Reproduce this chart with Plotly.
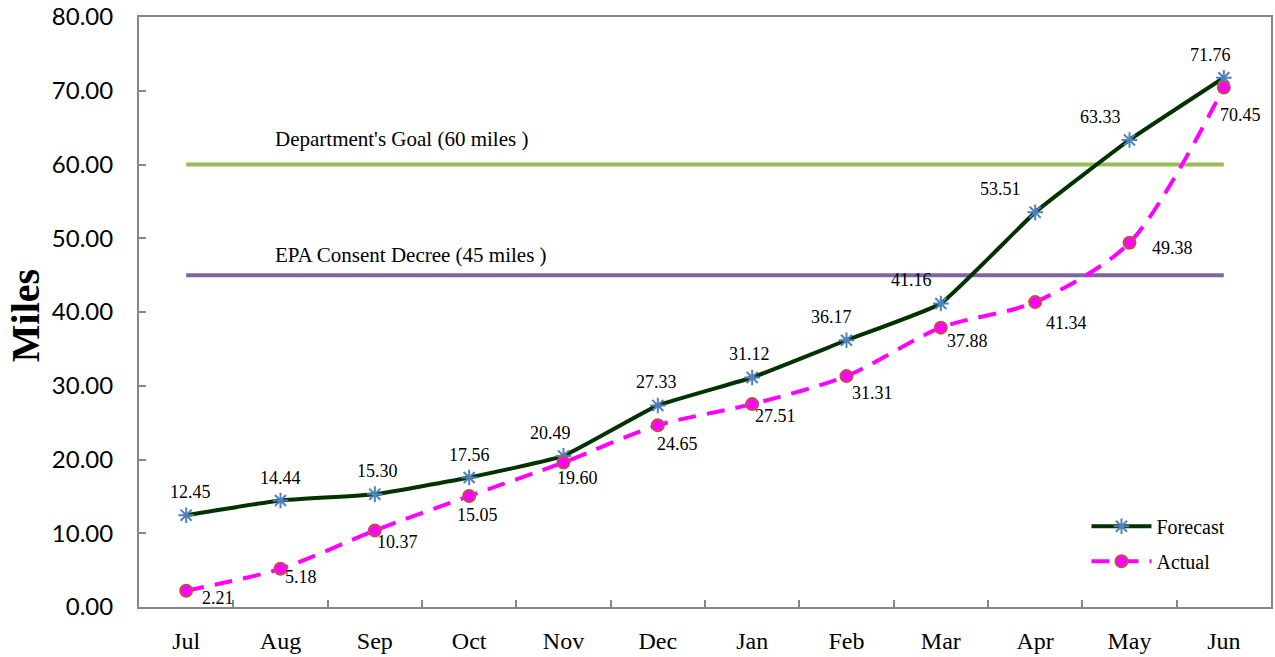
import plotly.graph_objects as go

months = ["Jul", "Aug", "Sep", "Oct", "Nov", "Dec", "Jan", "Feb", "Mar", "Apr", "May", "Jun"]
forecast = [12.45, 14.44, 15.30, 17.56, 20.49, 27.33, 31.12, 36.17, 41.16, 53.51, 63.33, 71.76]
actual = [2.21, 5.18, 10.37, 15.05, 19.60, 24.65, 27.51, 31.31, 37.88, 41.34, 49.38, 70.45]
goal_value = 60
goal_label = "Department's Goal (60 miles )"
epa_value = 45
epa_label = "EPA Consent Decree (45 miles )"

# label nudges (pixels), styling only
fc_dx = [4, 0, 3, 0, -13, -1, -3, -15, -29, -35, -29, -13]
ac_dx = [32, 20, 23, 8, 14, 20, 23, 26, 27, 31, 43, 17]
ac_dy = [-7, -8, -11, -19, -16, -19, -12, -17, -13, -21, -5, -28]

fig = go.Figure()

fig.add_trace(go.Scatter(x=months, y=[goal_value] * len(months), mode="lines",
                         line=dict(color="#9BBB59", width=4), showlegend=False, hoverinfo="skip"))
fig.add_trace(go.Scatter(x=months, y=[epa_value] * len(months), mode="lines",
                         line=dict(color="#8064A2", width=4), showlegend=False, hoverinfo="skip"))

fig.add_trace(go.Scatter(x=months, y=forecast, name="Forecast", mode="lines+markers",
                         legendgroup="f",
                         line=dict(color="#003300", width=4, shape="spline", smoothing=0.35),
                         marker=dict(symbol="asterisk-open", size=13, color="#4F81BD",
                                     line=dict(color="#4F81BD", width=2))))
fig.add_trace(go.Scatter(x=months, y=actual, name="Actual", mode="lines+markers",
                         legendgroup="a",
                         line=dict(color="#FF00FF", width=4, dash="18px,11px", shape="spline", smoothing=0.8),
                         marker=dict(symbol="circle", size=12, color="#FF00FF",
                                     line=dict(color="#C0504D", width=2))))

annotations = []
for m, v, dx in zip(months, forecast, fc_dx):
    annotations.append(dict(x=m, y=v, text=f"{v:.2f}", showarrow=False, xanchor="center",
                            yanchor="middle", xshift=dx, yshift=23,
                            font=dict(family="Liberation Serif", size=18, color="black")))
for m, v, dx, dy in zip(months, actual, ac_dx, ac_dy):
    annotations.append(dict(x=m, y=v, text=f"{v:.2f}", showarrow=False, xanchor="center",
                            yanchor="middle", xshift=dx, yshift=dy,
                            font=dict(family="Liberation Serif", size=18, color="black")))
annotations.append(dict(x=months[0], y=goal_value, text=goal_label, showarrow=False,
                        xanchor="left", yanchor="middle", xshift=87, yshift=26,
                        font=dict(family="Liberation Serif", size=21, color="black")))
annotations.append(dict(x=months[0], y=epa_value, text=epa_label, showarrow=False,
                        xanchor="left", yanchor="middle", xshift=87, yshift=20,
                        font=dict(family="Liberation Serif", size=21, color="black")))
annotations.append(dict(x=-0.1007, y=0.493, xref="paper", yref="paper", text="<b>Miles</b>",
                        textangle=-90, showarrow=False, xanchor="center", yanchor="middle",
                        font=dict(family="Liberation Serif", size=40, color="black")))

fig.update_layout(
    width=1275, height=657,
    margin=dict(l=139, r=4, t=17, b=50),
    paper_bgcolor="white", plot_bgcolor="white",
    annotations=annotations,
    legend=dict(x=0.837, y=0.17, xanchor="left", yanchor="top",
                font=dict(family="Liberation Serif", size=20, color="black"),
                bgcolor="rgba(0,0,0,0)", tracegroupgap=6, itemwidth=60),
    xaxis=dict(type="category", showgrid=False, showline=True, linecolor="#868686", linewidth=2,
               mirror=True, ticks="inside", tickson="boundaries", ticklen=7, tickcolor="#868686",
               tickwidth=1.5, ticklabelstandoff=11, automargin=False,
               tickfont=dict(family="Liberation Serif", size=24, color="black"),
               range=[-0.5, 11.5]),
    yaxis=dict(range=[0, 80], dtick=10, tickformat=".2f", showgrid=False, zeroline=False,
               showline=True, linecolor="#868686", linewidth=2, mirror=True,
               ticks="inside", ticklen=7, tickcolor="#868686", tickwidth=1.5,
               ticklabelstandoff=19, automargin=False,
               tickfont=dict(family="Lato", size=24, color="black")),
)

fig.write_html("out.html", config={"displayModeBar": False},
               post_script="document.body.style.margin='0';document.body.style.overflow='hidden';")
